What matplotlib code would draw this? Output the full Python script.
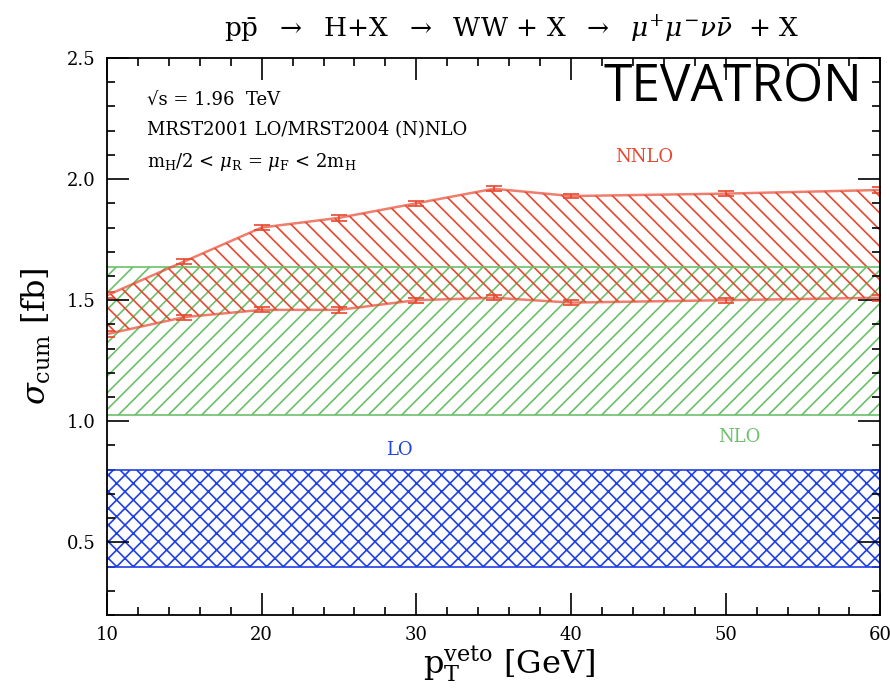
import numpy as np
import matplotlib
matplotlib.use("Agg")
import matplotlib.pyplot as plt

plt.rcParams["mathtext.fontset"] = "dejavuserif"
plt.rcParams["font.family"] = "DejaVu Serif"
plt.rcParams["hatch.linewidth"] = 1.2

# %% Daten
pt_veto = np.array([10, 15, 20, 25, 30, 35, 40, 50, 60])
nnlo_hi = np.array([1.52, 1.66, 1.80, 1.84, 1.90, 1.96, 1.93, 1.94, 1.955])
nnlo_lo = np.array([1.36, 1.43, 1.46, 1.46, 1.50, 1.51, 1.49, 1.50, 1.51])
nnlo_err = np.array([0.012, 0.01, 0.01, 0.012, 0.01, 0.01, 0.01, 0.01, 0.012])

nlo_band = (1.025, 1.635)
lo_band = (0.40, 0.80)
x_range = (10, 60)

red = "#e8472f"
green = "#6cc06a"
blue = "#2040e8"

# %% Plot
fig = plt.figure(figsize=(8.9, 6.88), dpi=100)
ax = fig.add_axes([0.1202, 0.1061, 0.869, 0.8096])

xs = np.array(x_range)
ax.fill_between(xs, lo_band[0], lo_band[1], facecolor="none", edgecolor=blue,
                hatch="xx", linewidth=0)
ax.plot(xs, [lo_band[0]] * 2, color=blue, lw=1.2)
ax.plot(xs, [lo_band[1]] * 2, color=blue, lw=1.2)

ax.fill_between(xs, nlo_band[0], nlo_band[1], facecolor="none", edgecolor=green,
                hatch="//", linewidth=0)
ax.plot(xs, [nlo_band[0]] * 2, color=green, lw=1.2)
ax.plot(xs, [nlo_band[1]] * 2, color=green, lw=1.2)

ax.fill_between(pt_veto, nnlo_lo, nnlo_hi, facecolor="none", edgecolor=red,
                hatch="\\\\", linewidth=0)
ax.plot(pt_veto, nnlo_hi, color=red, lw=1.8, alpha=0.7)
ax.plot(pt_veto, nnlo_lo, color=red, lw=1.8, alpha=0.7)
ax.errorbar(pt_veto, nnlo_hi, yerr=nnlo_err, fmt="none", ecolor=red,
            elinewidth=1.2, capsize=6, capthick=1.2)
ax.errorbar(pt_veto, nnlo_lo, yerr=nnlo_err, fmt="none", ecolor=red,
            elinewidth=1.2, capsize=6, capthick=1.2)

ax.set_xlim(10, 60)
ax.set_ylim(0.2, 2.5)
ax.set_xticks(np.arange(10, 61, 10))
ax.set_xticks(np.arange(10, 61, 2), minor=True)
ax.set_yticks([0.5, 1.0, 1.5, 2.0, 2.5])
ax.set_yticks(np.arange(0.2, 2.51, 0.1), minor=True)
ax.yaxis.set_major_formatter(matplotlib.ticker.FormatStrFormatter("%.1f"))
ax.tick_params(which="both", direction="in", top=True, right=True,
               labelsize=13, width=1.2)
ax.tick_params(which="major", length=16, pad=8)
ax.tick_params(which="minor", length=6)
for s in ax.spines.values():
    s.set_linewidth(1.3)

ax.set_xlabel(r"$\mathrm{p}_\mathrm{T}^\mathrm{veto}$ [GeV]", fontsize=23,
              labelpad=0, x=0.52)
ax.set_ylabel(r"$\sigma_\mathrm{cum}$ [fb]", fontsize=23, labelpad=10)
fig.text(0.575, 0.958,
         r"p$\bar{\mathrm{p}}$  $\rightarrow$  H+X  $\rightarrow$  WW + X  $\rightarrow$  "
         r"$\mu^{+}\mu^{-}\nu\bar{\nu}$  + X", fontsize=19, ha="center", va="center")

ax.text(0.052, 0.925, "√s = 1.96  TeV", transform=ax.transAxes, fontsize=13, va="center")
ax.text(0.052, 0.871, "MRST2001 LO/MRST2004 (N)NLO", transform=ax.transAxes,
        fontsize=13, va="center")
ax.text(0.052, 0.813, r"m$_\mathrm{H}$/2 < $\mu_\mathrm{R}$ = $\mu_\mathrm{F}$ < 2m$_\mathrm{H}$",
        transform=ax.transAxes, fontsize=13, va="center")

ax.text(0.976, 0.947, "TEVATRON", transform=ax.transAxes, fontsize=37,
        family="Open Sans", ha="right", va="center")
ax.text(0.694, 0.822, "NNLO", transform=ax.transAxes, fontsize=13, color=red,
        ha="center", va="center")
ax.text(0.817, 0.32, "NLO", transform=ax.transAxes, fontsize=13, color=green,
        ha="center", va="center")
ax.text(0.378, 0.296, "LO", transform=ax.transAxes, fontsize=13, color=blue,
        ha="center", va="center")

fig.savefig("out.png", dpi=100)
